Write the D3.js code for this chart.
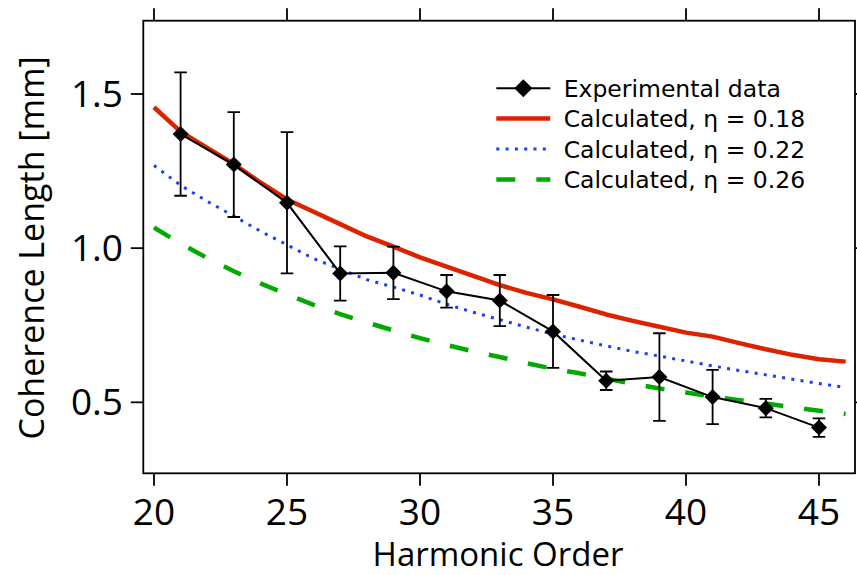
<!DOCTYPE html>
<html>
<head>
<meta charset="utf-8">
<script src="https://cdn.jsdelivr.net/npm/d3@7"></script>
<style>
  html, body { margin: 0; padding: 0; background: #fff; }
  svg { display: block; }
  text { font-family: "Open Sans", "DejaVu Sans", sans-serif; fill: #000; }
  .legend text { font-family: "DejaVu Sans", sans-serif; }
</style>
</head>
<body>
<svg id="chart" width="857" height="575"></svg>
<script>
// ---- data ----
const harmonics = [21, 23, 25, 27, 29, 31, 33, 35, 37, 39, 41, 43, 45];
const expValues = [1.370, 1.271, 1.147, 0.918, 0.920, 0.860, 0.830, 0.730, 0.570, 0.582, 0.517, 0.481, 0.418];
const expErrors = [0.200, 0.170, 0.229, 0.088, 0.085, 0.053, 0.083, 0.118, 0.030, 0.142, 0.088, 0.030, 0.030];

const calcOrders = [20, 21, 22, 23, 24, 25, 26, 27, 28, 29, 30, 31, 32, 33, 34, 35, 36, 37, 38, 39, 40, 41, 42, 43, 44, 45, 46];
const calcEta018 = [1.457, 1.378, 1.325, 1.273, 1.213, 1.158, 1.118, 1.078, 1.038, 1.005, 0.970, 0.940, 0.910, 0.880, 0.855, 0.834, 0.810, 0.785, 0.764, 0.745, 0.726, 0.713, 0.692, 0.672, 0.654, 0.640, 0.632];
const calcEta022 = [1.268, 1.204, 1.152, 1.104, 1.055, 1.011, 0.966, 0.932, 0.898, 0.874, 0.848, 0.818, 0.792, 0.768, 0.744, 0.721, 0.702, 0.683, 0.665, 0.650, 0.634, 0.618, 0.603, 0.589, 0.575, 0.561, 0.548];
const calcEta026 = [1.067, 1.015, 0.968, 0.925, 0.886, 0.850, 0.816, 0.786, 0.759, 0.733, 0.708, 0.686, 0.665, 0.647, 0.627, 0.609, 0.594, 0.577, 0.560, 0.545, 0.532, 0.519, 0.507, 0.496, 0.484, 0.473, 0.462];

const xTicks = [20, 25, 30, 35, 40, 45];
const yTicks = [0.5, 1.0, 1.5];
const legendLabels = ["Experimental data", "Calculated, \u03B7 = 0.18", "Calculated, \u03B7 = 0.22", "Calculated, \u03B7 = 0.26"];

// ---- layout ----
const pLeft = 143.3, pRight = 855, pTop = 20.7, pBottom = 473.3;
const x = d3.scaleLinear().domain([19.598, 46.353]).range([pLeft, pRight]);
const y = d3.scaleLinear().domain([0.2698, 1.7377]).range([pBottom, pTop]);

const svg = d3.select("#chart");

const series = [
  { values: calcEta018, color: "#dd2200", width: 4.5, dash: null },
  { values: calcEta022, color: "#1a3cff", width: 3, dash: "3,6.3" },
  { values: calcEta026, color: "#00aa00", width: 4.5, dash: "19,21" }
];

svg.append("clipPath").attr("id", "plotclip")
  .append("rect").attr("x", pLeft).attr("y", pTop).attr("width", pRight - pLeft).attr("height", pBottom - pTop);

const plot = svg.append("g").attr("clip-path", "url(#plotclip)");

const line = d3.line().x(d => x(d[0])).y(d => y(d[1]));

series.forEach(s => {
  plot.append("path")
    .datum(calcOrders.map((h, i) => [h, s.values[i]]))
    .attr("d", line)
    .attr("fill", "none")
    .attr("stroke", s.color)
    .attr("stroke-width", s.width)
    .attr("stroke-dasharray", s.dash)
    .attr("stroke-linejoin", "round");
});

// experimental data
const expData = harmonics.map((h, i) => ({ h, v: expValues[i], e: expErrors[i] }));
const eb = plot.append("g").attr("stroke", "#000").attr("stroke-width", 1.8);
expData.forEach(d => {
  eb.append("line").attr("x1", x(d.h)).attr("x2", x(d.h)).attr("y1", y(d.v - d.e)).attr("y2", y(d.v + d.e));
  eb.append("line").attr("x1", x(d.h) - 6.3).attr("x2", x(d.h) + 6.3).attr("y1", y(d.v + d.e)).attr("y2", y(d.v + d.e));
  eb.append("line").attr("x1", x(d.h) - 6.3).attr("x2", x(d.h) + 6.3).attr("y1", y(d.v - d.e)).attr("y2", y(d.v - d.e));
});
plot.append("path")
  .datum(expData.map(d => [d.h, d.v]))
  .attr("d", line)
  .attr("fill", "none")
  .attr("stroke", "#000")
  .attr("stroke-width", 2);

const dm = (r) => `M0,${-r}L${r},0L0,${r}L${-r},0Z`;
plot.selectAll(".pt").data(expData).enter().append("path")
  .attr("transform", d => `translate(${x(d.h)},${y(d.v)})`)
  .attr("d", dm(8))
  .attr("fill", "#000");

// ---- axes ----
const axisG = svg.append("g");
axisG.append("rect").attr("x", pLeft).attr("y", pTop).attr("width", pRight - pLeft).attr("height", pBottom - pTop)
  .attr("fill", "none").attr("stroke", "#000").attr("stroke-width", 1.8);

const tl = 12.5;
xTicks.forEach(t => {
  axisG.append("line").attr("x1", x(t)).attr("x2", x(t)).attr("y1", pBottom).attr("y2", pBottom + tl).attr("stroke", "#000").attr("stroke-width", 1.8);
  axisG.append("line").attr("x1", x(t)).attr("x2", x(t)).attr("y1", pTop).attr("y2", pTop - tl).attr("stroke", "#000").attr("stroke-width", 1.8);
  axisG.append("text").attr("x", x(t)).attr("y", 525).attr("text-anchor", "middle")
    .style("font-size", "37px").text(t);
});
yTicks.forEach(t => {
  axisG.append("line").attr("x1", pLeft).attr("x2", pLeft - tl).attr("y1", y(t)).attr("y2", y(t)).attr("stroke", "#000").attr("stroke-width", 1.8);
  axisG.append("line").attr("x1", pRight).attr("x2", pRight + tl).attr("y1", y(t)).attr("y2", y(t)).attr("stroke", "#000").attr("stroke-width", 1.8);
  axisG.append("text").attr("x", 123).attr("y", y(t) + 13).attr("text-anchor", "end")
    .style("font-size", "37px").text(d3.format(".1f")(t));
});

svg.append("text").attr("x", 498).attr("y", 566).attr("text-anchor", "middle")
  .style("font-size", "33px").text("Harmonic Order");
svg.append("text").attr("transform", "translate(44,248) rotate(-90)").attr("text-anchor", "middle")
  .style("font-size", "34px").text("Coherence Length [mm]");

// ---- legend ----
const lg = svg.append("g").attr("class", "legend");
const rowY = [88.3, 118.5, 149, 179.5];
const lx0 = 496.3, lx1 = 550.3, tx = 563.7;
lg.append("line").attr("x1", lx0).attr("x2", lx1).attr("y1", rowY[0]).attr("y2", rowY[0]).attr("stroke", "#000").attr("stroke-width", 2);
lg.append("path").attr("transform", `translate(${(lx0 + lx1) / 2},${rowY[0]})`).attr("d", dm(9)).attr("fill", "#000");
series.forEach((s, i) => {
  lg.append("line").attr("x1", lx0).attr("x2", lx1).attr("y1", rowY[i + 1]).attr("y2", rowY[i + 1])
    .attr("stroke", s.color).attr("stroke-width", s.width).attr("stroke-dasharray", s.dash);
});
legendLabels.forEach((t, i) => {
  lg.append("text").attr("x", tx).attr("y", rowY[i] + 8.5).style("font-size", "23.5px").text(t);
});
</script>
</body>
</html>
